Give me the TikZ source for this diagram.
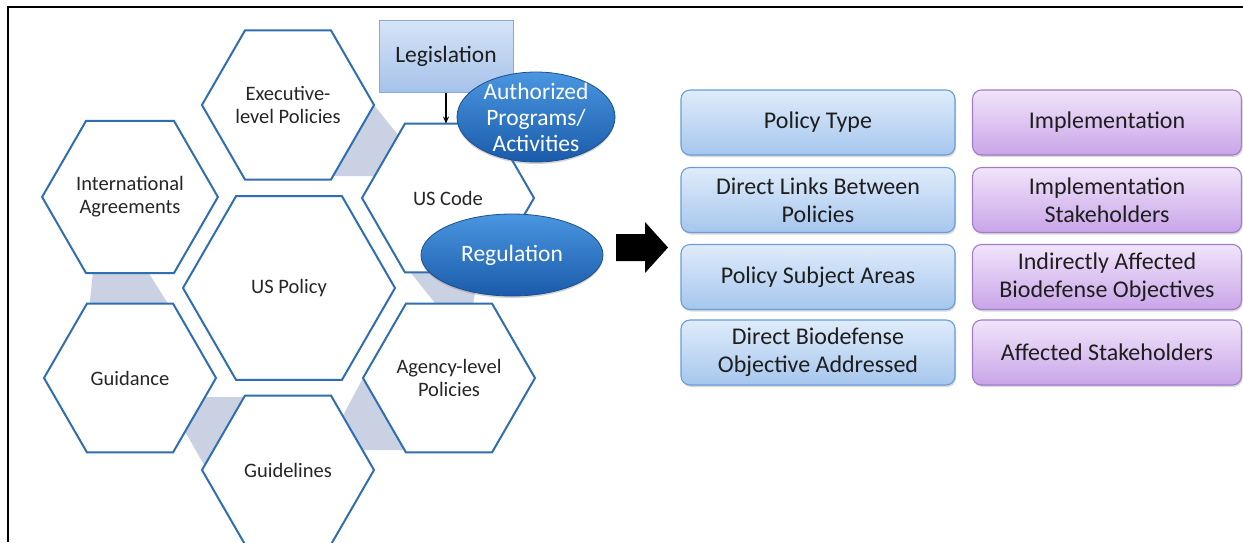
\documentclass[tikz,border=0pt]{standalone}
\usepackage{fontspec}
\setmainfont{Carlito}
\usetikzlibrary{shapes.geometric,arrows.meta,shadows}
\definecolor{hexline}{HTML}{2F6EB2}
\definecolor{band}{HTML}{C9D1E2}
\definecolor{txt}{HTML}{262626}
\definecolor{txtb}{HTML}{1E1E1E}
\definecolor{legtop}{HTML}{D6E4F7}
\definecolor{legbot}{HTML}{A6C2EA}
\definecolor{legline}{HTML}{86A9DA}
\definecolor{elltop}{HTML}{4A96E0}
\definecolor{ellmid}{HTML}{1F6CC4}
\definecolor{ellbot}{HTML}{1A5BAA}
\definecolor{ellline}{HTML}{1C4F8E}
\definecolor{bluetop}{HTML}{DFECFA}
\definecolor{bluebot}{HTML}{A6C6EE}
\definecolor{blueline}{HTML}{6A9ED8}
\definecolor{purtop}{HTML}{F1E4FA}
\definecolor{purbot}{HTML}{C9A5E8}
\definecolor{purline}{HTML}{A07CCB}
\tikzset{
  hexbox/.style={regular polygon, regular polygon sides=6, draw=hexline, line width=2pt,
    fill=white, inner sep=0pt, outer sep=0pt, align=center, text=txt,
    font=\fontsize{20.5}{23}\selectfont, minimum size=172pt},
  legbox/.style={rectangle, draw=legline, line width=1pt, top color=legtop, bottom color=legbot,
    minimum width=134pt, minimum height=72pt, inner sep=0pt, text=txtb,
    font=\fontsize{23.5}{26}\selectfont},
  ellbox/.style={ellipse, draw=ellline, line width=0.8pt, shading=axis, top color=elltop,
    middle color=ellmid, bottom color=ellbot, inner sep=0pt,
    drop shadow={shadow xshift=0pt, shadow yshift=-2pt, opacity=0.35}},
  elltext/.style={align=center, text=white, font=\fontsize{23.5}{26}\selectfont, inner sep=0pt},
  infobox/.style={rectangle, rounded corners=9pt, line width=1.1pt, minimum height=65pt,
    inner sep=0pt, align=center, text=txtb, font=\fontsize{24}{28}\selectfont,
    drop shadow={shadow xshift=1pt, shadow yshift=-2pt, opacity=0.3}},
  bluebox/.style={infobox, draw=blueline, top color=bluetop, bottom color=bluebot, minimum width=274pt},
  purbox/.style={infobox, draw=purline, top color=purtop, bottom color=purbot, minimum width=269pt}
}
\begin{document}
\begin{tikzpicture}[x=1pt,y=-1pt]
\useasboundingbox (0,0) rectangle (1243,542);
\fill[white] (0,0) rectangle (1243,542);
% frame
\draw[line width=2.5pt] (8,542) -- (8,7) -- (1243,7);
% connector bands
\fill[band] (374,105) -- (410,150) -- (410,176) -- (320,176) -- cycle;
\fill[band] (93.7,265) -- (143.6,265) -- (172,310) -- (89,310) -- cycle;
\fill[band] (190,397) -- (250,397) -- (212.7,480) -- (178.4,420) -- cycle;
\fill[band] (363,378) -- (338,425) -- (355,450) -- (420,450) -- cycle;
\fill[band] (404.6,265) -- (480,265) -- (472,310) -- (440.6,310) -- cycle;
% hexagons
\node[hexbox] (exec) at (288,105) {Executive-\\level Policies};
\node[hexbox] (intl) at (130,197) {International\\Agreements};
\node[hexbox] (uscode) at (448,198) {US Code};
\node[hexbox, minimum size=212pt] (policy) at (289,288) {US Policy};
\node[hexbox] (guidance) at (130,378) {Guidance};
\node[hexbox] (agency) at (449,378) {Agency-level\\Policies};
\node[hexbox] (guidelines) at (288,470) {Guidelines};
% legislation
\node[legbox] (leg) at (446,56) {Legislation};
\draw[line width=1.3pt, -{Stealth[length=7pt,width=6pt]}] (leg.south) -- (leg.south |- uscode.north);
% ellipses
\node[ellbox, minimum width=158pt, minimum height=90pt] (auth) at (536,117) {};
\node[elltext] (authtext) at (auth.center) {Authorized\\Programs/\\Activities};
\node[ellbox, minimum width=182pt, minimum height=82pt] (reg) at (512,255) {};
\node[elltext] (regtext) at (reg.center) {Regulation};
% big arrow
\fill[black] (616,234) -- (645,234) -- (645,222) -- (668,247.5) -- (645,273) -- (645,261) -- (616,261) -- cycle;
% right boxes
\node[bluebox] (b1) at (818,122.5) {Policy Type};
\node[bluebox] (b2) at (818,200) {Direct Links Between\\Policies};
\node[bluebox] (b3) at (818,277) {Policy Subject Areas};
\node[bluebox] (b4) at (818,352.5) {Direct Biodefense\\Objective Addressed};
\node[purbox] (p1) at (1107,122.5) {Implementation};
\node[purbox] (p2) at (1107,200) {Implementation\\Stakeholders};
\node[purbox] (p3) at (1107,277) {Indirectly Affected\\Biodefense Objectives};
\node[purbox] (p4) at (1107,352.5) {Affected Stakeholders};
\end{tikzpicture}
\end{document}
